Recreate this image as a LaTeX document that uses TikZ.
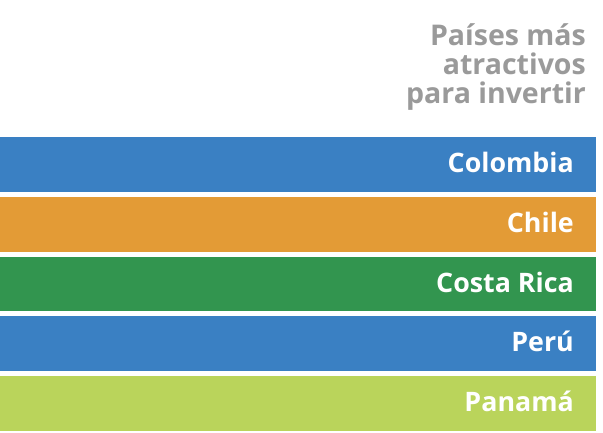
\documentclass[tikz,border=0pt]{standalone}
\usepackage{fontspec}
\setmainfont{Open Sans}
\definecolor{cblue}{HTML}{3A80C3}
\definecolor{corange}{HTML}{E39B36}
\definecolor{cgreen}{HTML}{32954F}
\definecolor{clime}{HTML}{BAD45B}
\definecolor{cgray}{HTML}{9A9A9A}
\begin{document}
\begin{tikzpicture}[x=1pt,y=-1pt,
  bar/.style={draw=none,fill=#1},
  ttl/.style={anchor=base east,text=cgray,inner sep=0pt,font=\fontsize{28.5}{30}\selectfont\bfseries},
  lbl/.style={anchor=base east,text=white,font=\fontsize{26.8}{30}\selectfont\bfseries,inner sep=0pt}]
\useasboundingbox (0,0) rectangle (603,433);
\fill[white] (0,0) rectangle (603,433);
\node[ttl] (t1) at (586,46) {Países más};
\node[ttl] (t2) at (586,75) {atractivos};
\node[ttl] (t3) at (586,104) {para invertir};
\fill[bar=cblue] (0,137) rectangle (596,192) coordinate (b1);
\fill[bar=corange] (0,197) rectangle (596,252) coordinate (b2);
\fill[bar=cgreen] (0,257) rectangle (596,311) coordinate (b3);
\fill[bar=cblue] (0,316) rectangle (596,371) coordinate (b4);
\fill[bar=clime] (0,376) rectangle (596,431) coordinate (b5);
\node[lbl] (l1) at (574,173) {Colombia};
\node[lbl] (l2) at (574,232.5) {Chile};
\node[lbl] (l3) at (574,292) {Costa Rica};
\node[lbl] (l4) at (574,351.5) {Perú};
\node[lbl] (l5) at (574,411) {Panamá};
\end{tikzpicture}
\end{document}
